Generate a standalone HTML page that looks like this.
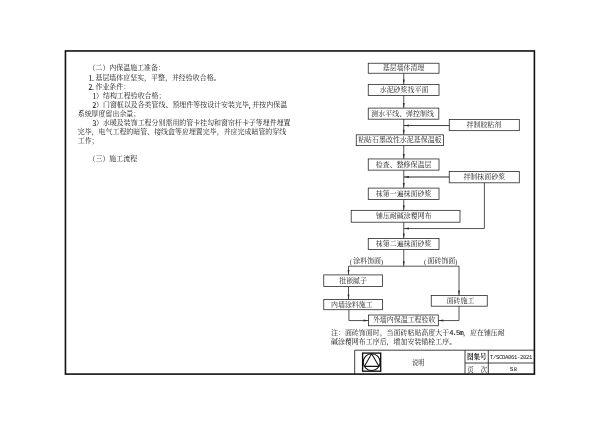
<!DOCTYPE html>
<html lang="zh-CN">
<head>
<meta charset="utf-8">
<title>内保温施工 说明 S8</title>
<style>
html,body{margin:0;padding:0;background:#fff;}
body{width:600px;height:424px;overflow:hidden;}
svg{display:block;font-family:"Liberation Serif","Noto Serif CJK SC",serif;will-change:transform;}
text{white-space:pre;}
</style>
</head>
<body>
<svg width="600" height="424" viewBox="0 0 600 424" lang="zh-CN">
<rect x="0" y="0" width="600" height="424" fill="#fff"/>
<rect x="65.45" y="50.95" width="468.95" height="323.15" fill="none" stroke="#111" stroke-width="1.6"/>
<g id="body-text">
<text x="88.50 95.45 102.40 109.35 116.30 123.25 130.20 137.15 144.10 151.05 158.00" y="68.10" font-size="6.95" dominant-baseline="central" fill="#161616"><tspan>（二）内保温施工准备：</tspan></text>
<text x="88.50 91.97 95.45 102.40 109.35 116.30 123.25 130.20 137.15 144.10 151.05 158.00 164.95 171.90 178.85 185.80 192.75 199.70 206.65 213.60" y="77.50" font-size="6.95" dominant-baseline="central" fill="#161616"><tspan font-size="7.37" stroke="#161616" stroke-width="0.12">1.</tspan><tspan>基层墙体应坚实，平整，并经验收合格。</tspan></text>
<text x="88.50 91.97 95.45 102.40 109.35 116.30 123.25" y="86.60" font-size="6.95" dominant-baseline="central" fill="#161616"><tspan font-size="7.37" stroke="#161616" stroke-width="0.12">2.</tspan><tspan>作业条件：</tspan></text>
<text x="92.50 95.97 102.92 109.88 116.83 123.78 130.72 137.67 144.62 151.57 158.52" y="95.75" font-size="6.95" dominant-baseline="central" fill="#161616"><tspan font-size="7.37" stroke="#161616" stroke-width="0.12">1</tspan><tspan>）结构工程验收合格；</tspan></text>
<text x="92.50 95.97 102.92 109.88 116.83 123.78 130.72 137.67 144.62 151.57 158.52 165.47 172.42 179.37 186.32 193.27 200.22 207.17 214.12 221.07 228.02 234.97 241.92 248.87 252.35 259.30 266.25 273.20 280.15" y="104.90" font-size="6.95" dominant-baseline="central" fill="#161616"><tspan font-size="7.37" stroke="#161616" stroke-width="0.12">2</tspan><tspan>）门窗框以及各类管线、预埋件等按设计安装完毕</tspan><tspan font-size="7.37" stroke="#161616" stroke-width="0.12">,</tspan><tspan>并按内保温</tspan></text>
<text x="77.70 84.65 91.60 98.55 105.50 112.45 119.40 126.35 133.30" y="113.90" font-size="6.95" dominant-baseline="central" fill="#161616"><tspan>系统厚度留出余量；</tspan></text>
<text x="92.50 95.97 102.92 109.88 116.83 123.78 130.72 137.67 144.62 151.57 158.52 165.47 172.42 179.37 186.32 193.27 200.22 207.17 214.12 221.07 228.02 234.97 241.92 248.87 255.82 262.77 269.72 276.67 283.62" y="123.00" font-size="6.95" dominant-baseline="central" fill="#161616"><tspan font-size="7.37" stroke="#161616" stroke-width="0.12">3</tspan><tspan>）水暖及装饰工程分别需用的管卡挂勾和窗帘杆卡子等埋件埋置</tspan></text>
<text x="77.70 84.65 91.60 98.55 105.50 112.45 119.40 126.35 133.30 140.25 147.20 154.15 161.10 168.05 175.00 181.95 188.90 195.85 202.80 209.75 216.70 223.65 230.60 237.55 244.50 251.45 258.40 265.35 272.30 279.25" y="131.90" font-size="6.95" dominant-baseline="central" fill="#161616"><tspan>完毕，电气工程的暗管、接线盒等应埋置完毕，并应完成暗管的穿线</tspan></text>
<text x="77.70 84.65 91.60" y="140.70" font-size="6.95" dominant-baseline="central" fill="#161616"><tspan>工作；</tspan></text>
<text x="88.50 95.45 102.40 109.35 116.30 123.25 130.20" y="159.40" font-size="6.95" dominant-baseline="central" fill="#161616"><tspan>（三）施工流程</tspan></text>
</g>
<g id="flow">
<rect x="368.25" y="63.25" width="70.75" height="10.00" fill="none" stroke="#2a2a2a" stroke-width="0.8"/>
<text x="382.77 389.72 396.67 403.62 410.57 417.52" y="68.25" font-size="6.95" dominant-baseline="central" fill="#222"><tspan>基层墙体清理</tspan></text>
<rect x="368.25" y="84.40" width="70.75" height="11.05" fill="none" stroke="#2a2a2a" stroke-width="0.8"/>
<text x="379.70 386.65 393.60 400.55 407.50 414.45 421.40" y="89.93" font-size="6.95" dominant-baseline="central" fill="#222"><tspan>水泥砂浆找平面</tspan></text>
<rect x="368.25" y="108.10" width="70.55" height="11.10" fill="none" stroke="#2a2a2a" stroke-width="0.8"/>
<text x="371.35 378.30 385.25 392.20 399.15 406.10 413.05 420.00 426.95" y="113.65" font-size="6.95" dominant-baseline="central" fill="#222"><tspan>测水平线、弹控制线</tspan></text>
<rect x="356.25" y="134.80" width="87.25" height="10.80" fill="none" stroke="#2a2a2a" stroke-width="0.8"/>
<text x="358.18 365.12 372.07 379.02 385.97 392.92 399.87 406.82 413.77 420.72 427.67 434.62" y="140.20" font-size="6.95" dominant-baseline="central" fill="#222"><tspan>粘贴石墨改性水泥基保温板</tspan></text>
<rect x="368.25" y="158.95" width="70.75" height="11.20" fill="none" stroke="#2a2a2a" stroke-width="0.8"/>
<text x="375.82 382.77 389.72 396.67 403.62 410.57 417.52 424.47" y="164.55" font-size="6.95" dominant-baseline="central" fill="#222"><tspan>检查、整修保温层</tspan></text>
<rect x="368.25" y="188.10" width="70.75" height="11.45" fill="none" stroke="#2a2a2a" stroke-width="0.8"/>
<text x="375.82 382.77 389.72 396.67 403.62 410.57 417.52 424.47" y="193.82" font-size="6.95" dominant-baseline="central" fill="#222"><tspan>抹第一遍抹面砂浆</tspan></text>
<rect x="351.20" y="210.35" width="108.80" height="11.85" fill="none" stroke="#2a2a2a" stroke-width="0.8"/>
<text x="376.00 382.95 389.90 396.85 403.80 410.75 417.70 424.65" y="216.27" font-size="6.95" dominant-baseline="central" fill="#222"><tspan>铺压耐碱涂覆网布</tspan></text>
<rect x="368.25" y="238.50" width="70.75" height="11.00" fill="none" stroke="#2a2a2a" stroke-width="0.8"/>
<text x="375.82 382.77 389.72 396.67 403.62 410.57 417.52 424.47" y="244.00" font-size="6.95" dominant-baseline="central" fill="#222"><tspan>抹第二遍抹面砂浆</tspan></text>
<rect x="323.75" y="274.90" width="58.75" height="11.60" fill="none" stroke="#2a2a2a" stroke-width="0.8"/>
<text x="339.23 346.18 353.12 360.07" y="280.70" font-size="6.95" dominant-baseline="central" fill="#222"><tspan>批嵌腻子</tspan></text>
<rect x="323.75" y="299.50" width="58.75" height="10.20" fill="none" stroke="#2a2a2a" stroke-width="0.8"/>
<text x="331.07 338.02 344.97 351.92 358.87 365.82" y="304.60" font-size="6.95" dominant-baseline="central" fill="#222"><tspan>内墙涂料施工</tspan></text>
<rect x="368.50" y="315.00" width="69.80" height="10.75" fill="none" stroke="#2a2a2a" stroke-width="0.8"/>
<text x="372.92 379.87 386.82 393.77 400.72 407.67 414.62 421.57 428.52" y="320.38" font-size="6.95" dominant-baseline="central" fill="#222"><tspan>外墙内保温工程验收</tspan></text>
<rect x="431.25" y="295.45" width="56.00" height="10.75" fill="none" stroke="#2a2a2a" stroke-width="0.8"/>
<text x="446.65 453.60 460.55 467.50" y="300.82" font-size="6.95" dominant-baseline="central" fill="#222"><tspan>面砖施工</tspan></text>
<rect x="449.25" y="119.55" width="70.05" height="11.10" fill="none" stroke="#2a2a2a" stroke-width="0.8"/>
<text x="466.50 473.45 480.40 487.35 494.30" y="125.10" font-size="6.95" dominant-baseline="central" fill="#222"><tspan>拌制胶粘剂</tspan></text>
<rect x="449.25" y="171.50" width="70.05" height="11.30" fill="none" stroke="#2a2a2a" stroke-width="0.8"/>
<text x="463.42 470.37 477.32 484.27 491.22 498.17" y="177.15" font-size="6.95" dominant-baseline="central" fill="#222"><tspan>拌制抹面砂浆</tspan></text>
<polyline points="403.75,73.25 403.75,84.40" fill="none" stroke="#2a2a2a" stroke-width="0.8"/>
<polygon points="403.75,84.20 402.80,79.40 404.70,79.40" fill="#2a2a2a"/>
<polyline points="403.75,95.45 403.75,108.10" fill="none" stroke="#2a2a2a" stroke-width="0.8"/>
<polygon points="403.75,107.90 402.80,103.10 404.70,103.10" fill="#2a2a2a"/>
<polyline points="403.75,119.20 403.75,134.80" fill="none" stroke="#2a2a2a" stroke-width="0.8"/>
<polygon points="403.75,134.60 402.80,129.80 404.70,129.80" fill="#2a2a2a"/>
<polyline points="403.75,145.60 403.75,158.95" fill="none" stroke="#2a2a2a" stroke-width="0.8"/>
<polygon points="403.75,158.75 402.80,153.95 404.70,153.95" fill="#2a2a2a"/>
<polyline points="403.75,170.15 403.75,188.10" fill="none" stroke="#2a2a2a" stroke-width="0.8"/>
<polygon points="403.75,187.90 402.80,183.10 404.70,183.10" fill="#2a2a2a"/>
<polyline points="403.75,199.55 403.75,210.35" fill="none" stroke="#2a2a2a" stroke-width="0.8"/>
<polygon points="403.75,210.15 402.80,205.35 404.70,205.35" fill="#2a2a2a"/>
<polyline points="403.75,222.20 403.75,238.50" fill="none" stroke="#2a2a2a" stroke-width="0.8"/>
<polygon points="403.75,238.30 402.80,233.50 404.70,233.50" fill="#2a2a2a"/>
<polyline points="449.25,125.55 403.75,125.55" fill="none" stroke="#2a2a2a" stroke-width="0.9"/>
<polygon points="404.15,125.55 408.95,124.60 408.95,126.50" fill="#2a2a2a"/>
<polyline points="449.25,177.00 403.75,177.00" fill="none" stroke="#2a2a2a" stroke-width="1.1"/>
<polygon points="404.15,177.00 408.95,176.05 408.95,177.95" fill="#2a2a2a"/>
<polyline points="484.40,182.80 484.40,228.55 403.75,228.55" fill="none" stroke="#2a2a2a" stroke-width="0.8"/>
<polygon points="404.15,228.55 408.95,227.60 408.95,229.50" fill="#2a2a2a"/>
<polyline points="403.75,249.50 403.75,266.20" fill="none" stroke="#2a2a2a" stroke-width="0.8"/>
<polygon points="403.75,266.00 402.80,261.20 404.70,261.20" fill="#2a2a2a"/>
<polyline points="348.50,274.90 348.50,266.20 459.00,266.20 459.00,295.45" fill="none" stroke="#2a2a2a" stroke-width="0.8"/>
<polygon points="348.50,274.70 347.55,269.90 349.45,269.90" fill="#2a2a2a"/>
<polygon points="459.00,295.25 458.05,290.45 459.95,290.45" fill="#2a2a2a"/>
<polyline points="348.50,286.50 348.50,299.50" fill="none" stroke="#2a2a2a" stroke-width="0.8"/>
<polygon points="348.50,299.30 347.55,294.50 349.45,294.50" fill="#2a2a2a"/>
<polyline points="348.90,309.70 348.90,320.55 368.50,320.55" fill="none" stroke="#2a2a2a" stroke-width="0.8"/>
<polygon points="368.30,320.55 363.50,319.60 363.50,321.50" fill="#2a2a2a"/>
<polyline points="459.00,306.20 459.00,320.55 438.30,320.55" fill="none" stroke="#2a2a2a" stroke-width="0.8"/>
<polygon points="438.50,320.55 443.30,319.60 443.30,321.50" fill="#2a2a2a"/>
<text x="349.80 353.28 360.23 367.18 374.12 381.07" y="261.30" font-size="6.95" dominant-baseline="central" fill="#161616"><tspan font-size="6.25" stroke="#161616" stroke-width="0">(</tspan><tspan>涂料饰面</tspan><tspan font-size="6.25" stroke="#161616" stroke-width="0">)</tspan></text>
<text x="424.00 427.48 434.43 441.38 448.32 455.27" y="261.30" font-size="6.95" dominant-baseline="central" fill="#161616"><tspan font-size="6.25" stroke="#161616" stroke-width="0">(</tspan><tspan>面砖饰面</tspan><tspan font-size="6.25" stroke="#161616" stroke-width="0">)</tspan></text>
<text x="331.00 337.95 344.90 351.85 358.80 365.75 372.70 379.65 386.60 393.55 400.50 407.45 414.40 421.35 428.30 435.25 442.20 449.15 452.62 456.10 459.57 463.05 470.00 476.95 483.90 490.85 497.80" y="332.50" font-size="6.95" dominant-baseline="central" fill="#161616"><tspan>注：面砖饰面时，当面砖粘贴高度大于</tspan><tspan font-size="7.09" font-family='"Liberation Mono", monospace' stroke="#161616" stroke-width="0.1">4.5m</tspan><tspan>，应在铺压耐</tspan></text>
<text x="331.00 337.95 344.90 351.85 358.80 365.75 372.70 379.65 386.60 393.55 400.50 407.45 414.40 421.35 428.30 435.25 442.20 449.15" y="341.70" font-size="6.95" dominant-baseline="central" fill="#161616"><tspan>碱涂覆网布工序后，增加安装锚栓工序。</tspan></text>
</g>
<g id="title-block">
<polyline points="354.70,374.10 354.70,350.20 534.40,350.20" fill="none" stroke="#2a2a2a" stroke-width="0.9"/>
<polyline points="465.00,350.20 465.00,374.10" fill="none" stroke="#2a2a2a" stroke-width="0.9"/>
<polyline points="488.30,350.20 488.30,374.10" fill="none" stroke="#2a2a2a" stroke-width="0.9"/>
<polyline points="465.00,363.00 534.40,363.00" fill="none" stroke="#2a2a2a" stroke-width="0.9"/>
<rect x="362.6" y="353.1" width="18.1" height="18.1" fill="none" stroke="#111" stroke-width="1.35"/>
<circle cx="371.65" cy="362.15" r="8.4" fill="none" stroke="#111" stroke-width="1.05"/>
<polygon points="371.65,353.75 378.92,366.35 364.38,366.35" fill="none" stroke="#111" stroke-width="1.05" stroke-linejoin="round"/>
<text x="411.90 418.30" y="362.00" font-size="6.40" dominant-baseline="central" fill="#161616"><tspan>说明</tspan></text>
<text x="466.90 473.50 480.10" y="356.30" font-size="6.60" dominant-baseline="central" fill="#161616" font-weight="bold"><tspan>图集号</tspan></text>
<text x="490.00 493.00 496.00 499.00 502.00 505.00 508.00 511.00 514.00 517.00 520.00 523.00 526.00 529.00" y="357.10" font-size="5.60" dominant-baseline="central" fill="#161616" font-family='"Liberation Mono", monospace'>T/SCDA061-2021</text>
<text x="467.20" y="368.80" font-size="6.40" dominant-baseline="central" fill="#161616"><tspan>页</tspan></text>
<text x="480.70" y="368.80" font-size="6.40" dominant-baseline="central" fill="#161616"><tspan>次</tspan></text>
<text x="509.80 513.40" y="369.00" font-size="6.20" dominant-baseline="central" fill="#161616" font-family='"Liberation Mono", monospace'>S8</text>
</g>
</svg>
</body>
</html>
